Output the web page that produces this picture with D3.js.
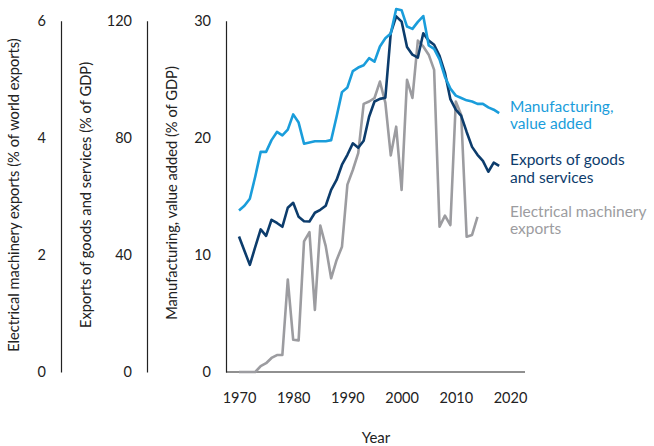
<!DOCTYPE html>
<html>
<head>
<meta charset="utf-8">
<script src="https://cdn.jsdelivr.net/npm/d3@7"></script>
<style>
  html, body { margin: 0; padding: 0; background: #fff; }
  svg { display: block; font-family: Lato, "Open Sans", sans-serif; }
</style>
</head>
<body>
<svg id="chart" width="654" height="446"></svg>
<script>
// ---- data ----
const years = d3.range(1970, 2019);
const manufacturing = [13.8, 14.2, 14.8, 16.7, 18.8, 18.8, 19.8, 20.5, 20.2, 20.7, 22.0, 21.3, 19.5, 19.6, 19.7, 19.7, 19.7, 19.8, 21.8, 23.9,
  24.3, 25.7, 26.0, 26.2, 26.8, 26.5, 27.8, 28.5, 28.9, 31.0, 30.9, 29.5, 29.3, 29.9, 30.4, 27.9, 27.6, 26.7, 25.2, 24.2,
  23.6, 23.4, 23.2, 23.1, 22.9, 22.9, 22.6, 22.4, 22.1];
const exportsGS = [46.3, 41.4, 36.6, 42.7, 48.7, 46.5, 52.0, 50.9, 49.6, 56.1, 57.8, 53.0, 51.5, 51.4, 54.4, 55.4, 56.8, 62.2, 65.6, 70.8,
  74.2, 78.1, 76.6, 79.0, 87.2, 92.4, 93.3, 93.7, 115.8, 121.5, 119.7, 111.0, 108.4, 107.4, 115.7, 113.2, 111.8, 108.0, 102.2, 93.2,
  89.6, 87.5, 82.0, 76.9, 74.2, 72.1, 68.4, 71.5, 70.4];
const elecYears = d3.range(1970, 2015);
const electrical = [0.0, 0.0, 0.0, 0.0, 0.1, 0.15, 0.24, 0.29, 0.29, 1.58, 0.55, 0.54, 2.23, 2.39, 1.06, 2.5, 2.15, 1.6, 1.91, 2.14,
  3.2, 3.45, 3.74, 4.58, 4.62, 4.68, 4.96, 4.6, 3.7, 4.19, 3.11, 4.99, 4.68, 5.66, 5.56, 5.42, 5.16, 2.48, 2.67, 2.51,
  4.62, 4.39, 2.31, 2.34, 2.65];
const xTicks = [1970, 1980, 1990, 2000, 2010, 2020];
const mTicks = [0, 10, 20, 30];
const eTicks = [0, 40, 80, 120];
const elTicks = [0, 2, 4, 6];

const seriesLabels = {
  manufacturing: ["Manufacturing,", "value added"],
  exports: ["Exports of goods", "and services"],
  electrical: ["Electrical machinery", "exports"]
};
const axisTitles = {
  electrical: "Electrical machinery exports (% of world exports)",
  exports: "Exports of goods and services (% of GDP)",
  manufacturing: "Manufacturing, value added (% of GDP)",
  x: "Year"
};

const colors = { manufacturing: "#1a9ddb", exports: "#0c3c6c", electrical: "#9c9ca0" };

// ---- layout ----
const svg = d3.select("#chart");
const plotTop = 20.7, plotBottom = 372;
const x = d3.scaleLinear().domain([1970, 2020]).range([239, 510]);
const yM = d3.scaleLinear().domain([0, 30]).range([plotBottom, plotTop]);
const yE = d3.scaleLinear().domain([0, 120]).range([plotBottom, plotTop]);
const yEl = d3.scaleLinear().domain([0, 6]).range([plotBottom, plotTop]);

const axisColor = "#222";
const tickFont = "14.5px";
const titleFont = "14.7px";

function drawYAxis(scale, ticks, lineX, title, titleX, titleCenter) {
  const g = svg.append("g").attr("transform", `translate(${lineX},0)`);
  const ax = d3.axisLeft(scale).tickValues(ticks).tickFormat(d3.format("d")).tickSize(0).tickPadding(15);
  g.call(ax);
  g.select(".domain").attr("stroke", axisColor).attr("stroke-width", 1.2);
  g.selectAll(".tick text").attr("font-size", tickFont).attr("fill", "#222")
    .attr("font-family", "Lato, sans-serif");
  svg.append("text")
    .attr("transform", `translate(${titleX},${titleCenter}) rotate(-90)`)
    .attr("text-anchor", "middle")
    .attr("font-size", titleFont)
    .attr("fill", "#222")
    .text(title);
}

drawYAxis(yEl, elTicks, 61, axisTitles.electrical, 19, 195);
drawYAxis(yE, eTicks, 147, axisTitles.exports, 91, 195);
drawYAxis(yM, mTicks, 226, axisTitles.manufacturing, 177, 193);

// x axis
const xg = svg.append("g").attr("transform", `translate(0,${plotBottom})`);
xg.call(d3.axisBottom(x).tickValues(xTicks).tickFormat(d3.format("d")).tickSize(0).tickPadding(21));
xg.select(".domain").remove();
xg.selectAll(".tick text").attr("font-size", tickFont).attr("fill", "#222")
  .attr("font-family", "Lato, sans-serif");
svg.append("line")
  .attr("x1", 226).attr("x2", 525).attr("y1", plotBottom).attr("y2", plotBottom)
  .attr("stroke", axisColor).attr("stroke-width", 1.2);
svg.append("text")
  .attr("x", 376).attr("y", 443)
  .attr("text-anchor", "middle")
  .attr("font-size", "15px").attr("fill", "#222")
  .text(axisTitles.x);

// lines
function drawLine(xs, vals, scale, color) {
  const data = xs.map((yr, i) => [yr, vals[i]]);
  svg.append("path")
    .datum(data)
    .attr("fill", "none")
    .attr("stroke", color)
    .attr("stroke-width", 2.6)
    .attr("stroke-linejoin", "round")
    .attr("stroke-linecap", "butt")
    .attr("d", d3.line().x(d => x(d[0])).y(d => scale(d[1])));
}
drawLine(elecYears, electrical, yEl, colors.electrical);
drawLine(years, exportsGS, yE, colors.exports);
drawLine(years, manufacturing, yM, colors.manufacturing);

// labels
function drawLabel(lines, y0, color) {
  const t = svg.append("text").attr("x", 510).attr("y", y0)
    .attr("font-size", "15.5px").attr("fill", color);
  lines.forEach((l, i) => {
    t.append("tspan").attr("x", 510).attr("dy", i === 0 ? 0 : 17.6).text(l);
  });
}
drawLabel(seriesLabels.manufacturing, 111.5, colors.manufacturing);
drawLabel(seriesLabels.exports, 165, colors.exports);
drawLabel(seriesLabels.electrical, 216.5, colors.electrical);
</script>
</body>
</html>
